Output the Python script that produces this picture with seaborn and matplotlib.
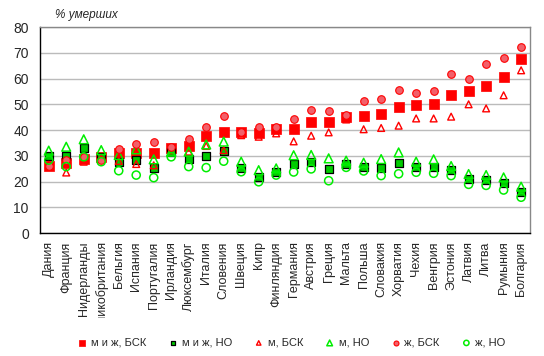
import matplotlib
matplotlib.use("Agg")
import matplotlib.pyplot as plt
from matplotlib.transforms import Bbox, TransformedBbox
import seaborn as sns
import pandas as pd

countries = ["Дания", "Франция", "Нидерланды", "Великобритания", "Бельгия", "Испания",
             "Португалия", "Ирландия", "Люксембург", "Италия", "Словения", "Швеция", "Кипр",
             "Финляндия", "Германия", "Австрия", "Греция", "Мальта", "Польша", "Словакия",
             "Хорватия", "Чехия", "Венгрия", "Эстония", "Латвия", "Литва", "Румыния", "Болгария"]

mw_bsk = [26.0, 27.0, 28.7, 29.6, 30.9, 30.9, 30.9, 32.9, 33.9, 37.8, 39.4, 39.4, 39.0, 40.4,
          40.5, 43.2, 43.2, 44.9, 45.6, 46.3, 49.1, 49.7, 50.1, 53.6, 55.3, 57.2, 60.7, 67.7]
mw_no = [30.0, 29.9, 32.9, 29.6, 27.7, 28.3, 25.1, 31.6, 28.6, 29.9, 31.8, 25.4, 21.9, 23.8,
         26.8, 27.4, 24.9, 26.8, 25.8, 25.1, 27.1, 25.8, 25.8, 24.5, 21.0, 20.6, 19.3, 15.8]
m_bsk = [26.5, 23.5, 27.7, 29.0, 28.0, 26.8, 26.3, 32.2, 31.6, 33.8, 32.2, 38.0, 37.4, 38.7,
         35.6, 37.8, 39.1, 44.1, 40.3, 40.8, 41.7, 44.5, 44.5, 45.2, 50.0, 48.4, 53.5, 63.2]
m_no = [32.0, 33.5, 36.4, 32.2, 30.3, 32.5, 28.6, 31.6, 31.6, 34.4, 35.5, 27.7, 24.4, 25.1,
        30.2, 30.3, 29.0, 28.1, 27.3, 28.7, 31.3, 27.7, 28.6, 26.0, 22.9, 22.5, 21.6, 18.0]
w_bsk = [26.0, 28.3, 29.4, 28.3, 32.6, 34.4, 35.2, 33.4, 36.4, 41.0, 45.3, 39.4, 41.0, 41.0,
         44.3, 47.6, 47.2, 45.7, 51.1, 51.9, 55.4, 54.2, 55.0, 61.7, 59.7, 65.5, 67.8, 72.1]
w_no = [28.3, 25.8, 29.6, 27.7, 24.2, 22.5, 21.5, 29.6, 25.8, 25.4, 27.9, 23.8, 19.9, 22.5,
        23.7, 24.9, 20.3, 25.5, 24.1, 22.3, 23.0, 23.6, 23.2, 22.3, 18.9, 18.5, 16.7, 13.9]

series_names = ["м и ж, БСК", "м и ж, НО", "м, БСК", "м, НО", "ж, БСК", "ж, НО"]
series_vals = [mw_bsk, mw_no, m_bsk, m_no, w_bsk, w_no]

styles = {
    "м и ж, БСК": dict(marker="s", s=44, facecolor="#FF0000", edgecolor="#FF0000", lw=0.5),
    "м и ж, НО": dict(marker="s", s=30, facecolor="#00CC00", edgecolor="black", lw=0.9),
    "м, БСК": dict(marker="^", s=24, facecolor="none", edgecolor="#FF0000", lw=1.0),
    "м, НО": dict(marker="^", s=40, facecolor="none", edgecolor="#00EE00", lw=1.1),
    "ж, БСК": dict(marker="o", s=30, facecolor="#F2606A", edgecolor="#FF0000", lw=0.8),
    "ж, НО": dict(marker="o", s=34, facecolor="none", edgecolor="#00EE00", lw=1.1),
}

frames = []
for name, vals in zip(series_names, series_vals):
    frames.append(pd.DataFrame({"country": countries, "value": vals, "series": name}))
df = pd.concat(frames, ignore_index=True)
df["pos"] = df["country"].map({c: i for i, c in enumerate(countries)})

sns.set_style("white")
plt.rcParams["font.family"] = ["Liberation Sans", "DejaVu Sans"]

fig = plt.figure(figsize=(5.44, 3.56), dpi=100)
ax = fig.add_axes([0.0735, 0.3455, 0.9005, 0.5785])

for name in series_names:
    st = styles[name]
    sub = df[df["series"] == name]
    sns.scatterplot(data=sub, x="pos", y="value", ax=ax, marker=st["marker"], s=st["s"],
                    facecolor=st["facecolor"], edgecolor=st["edgecolor"], linewidth=st["lw"],
                    label=name, zorder=3)

ax.set_xlim(-0.5, len(countries) - 0.5)
ax.set_ylim(0, 80)
ax.set_yticks(range(0, 81, 10))
ax.set_xticks(range(len(countries)))
ax.set_xticklabels(countries, rotation=90, fontsize=9)
ax.tick_params(axis="y", labelsize=10, length=0, pad=8)
ax.tick_params(axis="x", length=0, pad=6)
ax.yaxis.grid(True, color="#BBBBBB", lw=1)
ax.set_axisbelow(True)
ax.set_xlabel("")
ax.set_ylabel("")
for side in ["top", "right"]:
    ax.spines[side].set_color("#888888")
for side in ["left", "bottom"]:
    ax.spines[side].set_color("black")
for sp in ax.spines.values():
    sp.set_linewidth(1)

clipbox = TransformedBbox(Bbox([[0, 0.1067], [1, 1]]), fig.transFigure)
for lab in ax.get_xticklabels():
    lab.set_clip_box(clipbox)
    lab.set_clip_on(True)

fig.text(0.101, 0.957, "% умерших", fontsize=8.5, style="italic", ha="left", va="center")

handles, labels = ax.get_legend_handles_labels()
if ax.legend_:
    ax.legend_.remove()
fig.legend(handles, labels, loc="center", bbox_to_anchor=(0.535, 0.037), ncol=6, frameon=False,
           fontsize=8, handletextpad=0.3, columnspacing=1.9, markerscale=0.65, handlelength=1)

fig.savefig("out.png", dpi=100)
